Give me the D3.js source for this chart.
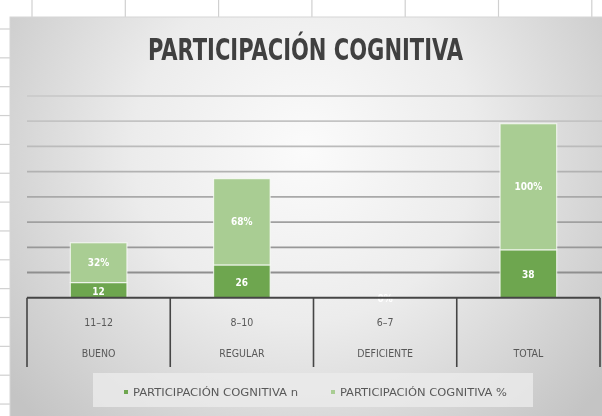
<!DOCTYPE html>
<html>
<head>
<meta charset="utf-8">
<script src="https://cdn.jsdelivr.net/npm/d3@7"></script>
<style>
  html, body { margin: 0; padding: 0; background: #fff; }
  svg { display: block; }
  .narrow { font-family: "Liberation Sans Narrow", "DejaVu Sans Condensed", "Roboto", sans-serif; }
</style>
</head>
<body>
<div id="chart"></div>
<script>
// chart data
var rangos = ["11\u201312", "8\u201310", "6\u20137", ""];
var niveles = ["BUENO", "REGULAR", "DEFICIENTE", "TOTAL"];
var serieN = [12, 26, 0, 38];
var seriePct = [31.58, 68.42, 0, 100];
var etiquetasPct = ["32%", "68%", "0%", "100%"];
var nombresSeries = ["PARTICIPACI\u00d3N COGNITIVA n", "PARTICIPACI\u00d3N COGNITIVA %"];
var yTicks = [0, 20, 40, 60, 80, 100, 120, 140, 160];

var width = 602, height = 416;
var colors = ["#6ea64f", "#a9cd93"];

var svg = d3.select("#chart").append("svg").attr("width", width).attr("height", height);
var defs = svg.append("defs");

var bg = defs.append("radialGradient").attr("id", "bg")
	.attr("gradientUnits", "userSpaceOnUse")
	.attr("cx", 305).attr("cy", 150).attr("r", 380);
bg.append("stop").attr("offset", "0%").attr("stop-color", "#fbfbfb");
bg.append("stop").attr("offset", "45%").attr("stop-color", "#ececec");
bg.append("stop").attr("offset", "100%").attr("stop-color", "#c4c4c4");

defs.append("filter").attr("id", "soft")
	.append("feGaussianBlur").attr("stdDeviation", 0.6);

var root = svg.append("g").attr("filter", "url(#soft)");

// spreadsheet grid behind the chart
var colX = d3.range(7).map(function(i){ return 32 + i*93.3; });
root.selectAll("line.colx").data(colX).enter().append("line")
	.attr("x1", function(d){ return d; }).attr("x2", function(d){ return d; })
	.attr("y1", 0).attr("y2", 17)
	.style("stroke", "#d0d0d0").style("stroke-width", 1.2);
var rowY = d3.range(14).map(function(i){ return 29 + i*28.85; });
root.selectAll("line.rowy").data(rowY).enter().append("line")
	.attr("x1", 0).attr("x2", 10)
	.attr("y1", function(d){ return d; }).attr("y2", function(d){ return d; })
	.style("stroke", "#d0d0d0").style("stroke-width", 1.2);

// chart area
root.append("rect")
	.attr("x", 10).attr("y", 17).attr("width", 620).attr("height", 420)
	.style("fill", "url(#bg)")
	.style("stroke", "#d6d6d6").style("stroke-width", 1);

// title
root.append("text")
	.attr("class", "narrow")
	.attr("x", 305.5).attr("y", 60)
	.attr("text-anchor", "middle")
	.attr("font-size", "31px")
	.attr("font-weight", "bold")
	.attr("textLength", 315).attr("lengthAdjust", "spacingAndGlyphs")
	.style("fill", "#404040")
	.text("PARTICIPACI\u00d3N COGNITIVA");

var x = d3.scaleBand().domain(niveles).range([27, 600]).padding(0);
var y = d3.scaleLinear().domain([0, 160]).range([297.7, 96]);
var barW = x.bandwidth() * 0.395;

// gridlines
var gridShade = d3.scaleLinear().domain([0, 160]).range(["#868686", "#cccccc"]);
root.append("g").selectAll("line").data(yTicks.slice(1)).enter().append("line")
	.attr("x1", 27).attr("x2", 602)
	.attr("y1", function(d){ return y(d); }).attr("y2", function(d){ return y(d); })
	.style("stroke", function(d){ return gridShade(d); })
	.style("stroke-width", 1.8);

// stacked bars
var stackData = niveles.map(function(c, i){ return {cat: c, n: serieN[i], pct: seriePct[i], lab: etiquetasPct[i]}; });
var stack = d3.stack().keys(["n", "pct"])(stackData);

var layers = root.append("g").selectAll("g").data(stack).enter().append("g")
	.style("fill", function(d, i){ return colors[i]; });
layers.selectAll("rect").data(function(d){ return d; }).enter().append("rect")
	.attr("x", function(d){ return x(d.data.cat) + (x.bandwidth() - barW)/2; })
	.attr("width", barW)
	.attr("y", function(d){ return y(d[1]); })
	.attr("height", function(d){ return Math.max(0, y(d[0]) - y(d[1])); })
	.style("stroke", "#ffffff").style("stroke-opacity", 0.7).style("stroke-width", 1.2);

// data labels
var labels = root.append("g").attr("class", "narrow")
	.attr("font-size", "10px").attr("font-weight", "bold")
	.attr("text-anchor", "middle").style("fill", "#ffffff");
stack[0].forEach(function(d){
	if (d.data.n === 0) return;
	labels.append("text")
		.attr("x", x(d.data.cat) + x.bandwidth()/2)
		.attr("y", (y(d[0]) + y(d[1]))/2 + 4.5)
		.text(d.data.n);
});
stack[1].forEach(function(d){
	labels.append("text")
		.attr("x", x(d.data.cat) + x.bandwidth()/2)
		.attr("y", d.data.pct === 0 ? y(0) + 4 : (y(d[0]) + y(d[1]))/2 + 3.5)
		.text(d.data.lab);
});

// multi-level category axis
var axis = root.append("g").style("stroke", "#454545");
axis.append("line")
	.attr("x1", 27).attr("x2", 600)
	.attr("y1", y(0)).attr("y2", y(0))
	.style("stroke-width", 2);
var divs = niveles.map(function(c){ return x(c); }).concat([x.range()[1]]);
axis.selectAll("line.div").data(divs).enter().append("line")
	.attr("x1", function(d){ return d; }).attr("x2", function(d){ return d; })
	.attr("y1", y(0)).attr("y2", 367)
	.style("stroke-width", 1.6);

var catText = root.append("g").attr("class", "narrow")
	.attr("font-size", "10.5px").attr("text-anchor", "middle").style("fill", "#595959");
catText.selectAll("text.r").data(rangos).enter().append("text")
	.attr("x", function(d, i){ return x(niveles[i]) + x.bandwidth()/2; })
	.attr("y", 326)
	.text(function(d){ return d; });
catText.selectAll("text.c").data(niveles).enter().append("text")
	.attr("x", function(d){ return x(d) + x.bandwidth()/2; })
	.attr("y", 357)
	.text(function(d){ return d; });

// legend
var legend = root.append("g");
legend.append("rect")
	.attr("x", 93).attr("y", 373).attr("width", 440).attr("height", 34)
	.style("fill", "#ebebeb").style("fill-opacity", 0.8);
var legX = [124, 331];
var legW = [165, 167];
nombresSeries.forEach(function(s, i){
	legend.append("rect")
		.attr("x", legX[i]).attr("y", 390).attr("width", 4).attr("height", 4)
		.style("fill", colors[i]);
	legend.append("text")
		.attr("class", "narrow")
		.attr("x", legX[i] + 9).attr("y", 396)
		.attr("font-size", "10.5px")
		.attr("textLength", legW[i]).attr("lengthAdjust", "spacingAndGlyphs")
		.style("fill", "#595959")
		.text(s);
});
</script>
</body>
</html>
